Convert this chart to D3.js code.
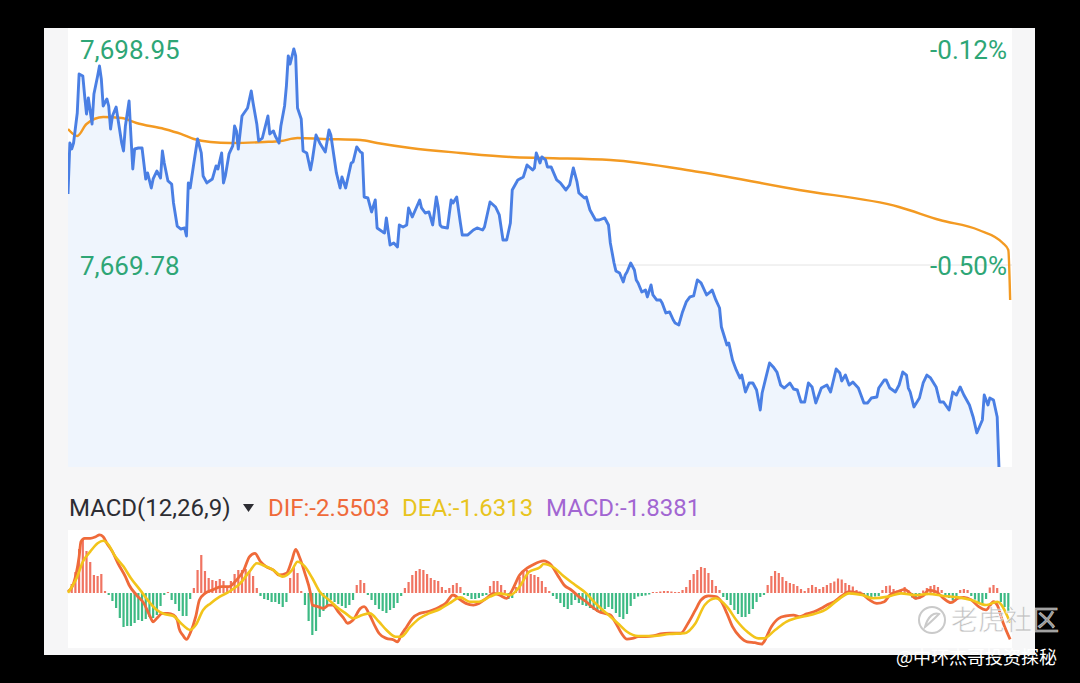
<!DOCTYPE html>
<html>
<head>
<meta charset="utf-8">
<script src="https://cdn.jsdelivr.net/npm/d3@7"></script>
<style>
  html, body { margin: 0; background: #000; }
  svg { display: block; font-family: Roboto, "Noto Sans", sans-serif; }
</style>
</head>
<body>
<div id="chart"></div>
<script>
// intraday minutes from open (0..510) and index level
const priceTicks = [7698.95, 7669.78];
const pctTicks = ["-0.12%", "-0.50%"];

const pricePoints = [
  [0,7678.52],[1,7684.80],[2,7684.06],[3,7684.80],[5,7688.49],[6,7693.29],[8,7693.05],[9,7690.58],[10,7688.37],[11,7690.34],
  [13,7687.14],[14,7690.83],[16,7693.05],[17,7694.28],[18,7692.68],[19,7689.35],[21,7690.22],[22,7689.35],[23,7686.52],[24,7688.12],
  [26,7689.23],[27,7687.75],[29,7684.80],[30,7683.81],[31,7686.89],[33,7689.97],[34,7685.66],[35,7681.60],[36,7684.06],[38,7684.18],
  [40,7684.18],[42,7680.37],[43,7681.11],[45,7679.26],[46,7680.37],[48,7681.35],[50,7680.49],[51,7683.81],[52,7682.34],[54,7680.12],
  [56,7679.75],[57,7677.41],[59,7674.58],[61,7674.21],[63,7674.34],[64,7673.35],[65,7679.88],[66,7679.26],[68,7682.34],[70,7685.29],
  [72,7683.57],[73,7680.74],[75,7679.88],[78,7680.37],[80,7681.97],[81,7681.60],[83,7683.57],[84,7679.88],[85,7680.74],[87,7683.45],
  [89,7684.43],[90,7686.89],[91,7686.28],[92,7684.06],[94,7688.12],[97,7689.11],[99,7691.20],[100,7689.72],[102,7687.14],[103,7685.05],
  [105,7685.41],[108,7688.12],[109,7685.91],[111,7686.28],[112,7685.66],[114,7684.80],[115,7686.89],[117,7689.35],[118,7691.82],[119,7695.51],
  [120,7694.52],[122,7696.37],[123,7695.51],[124,7689.11],[126,7687.75],[127,7683.81],[129,7683.57],[131,7681.48],[132,7682.71],[134,7685.78],
  [136,7684.80],[139,7683.69],[141,7686.40],[142,7685.78],[145,7681.11],[147,7679.26],[148,7680.62],[150,7679.26],[153,7682.34],[154,7682.46],
  [156,7684.31],[158,7683.69],[159,7683.57],[160,7678.15],[162,7678.03],[164,7676.31],[166,7677.78],[167,7674.34],[170,7673.85],[171,7673.72],
  [172,7675.57],[174,7672.25],[176,7672.49],[178,7672.00],[179,7674.71],[181,7674.46],[183,7674.71],[184,7676.80],[186,7675.69],[190,7677.78],
  [191,7676.80],[193,7676.18],[195,7676.31],[197,7674.71],[199,7678.15],[200,7676.92],[201,7674.71],[202,7674.46],[205,7674.34],[207,7677.78],
  [208,7677.41],[210,7678.15],[212,7674.95],[213,7673.48],[216,7673.48],[219,7674.09],[221,7674.34],[224,7674.09],[225,7674.46],[228,7677.54],
  [231,7676.92],[233,7675.94],[235,7672.86],[237,7672.86],[239,7674.95],[240,7679.01],[243,7680.25],[246,7680.62],[248,7682.09],[251,7681.48],
  [252,7681.72],[253,7683.57],[255,7682.34],[256,7683.08],[258,7682.71],[259,7681.85],[261,7681.85],[264,7680.25],[266,7679.88],[269,7679.01],
  [271,7679.63],[273,7681.72],[275,7680.00],[276,7678.65],[279,7678.03],[280,7678.15],[282,7676.55],[285,7675.32],[287,7675.32],[290,7675.57],
  [292,7674.71],[293,7672.49],[295,7670.03],[296,7669.05],[298,7668.80],[300,7667.69],[301,7668.55],[302,7668.92],[304,7670.03],[306,7669.17],
  [307,7667.94],[308,7667.57],[310,7666.46],[312,7666.71],[313,7665.85],[315,7667.32],[316,7666.09],[318,7665.48],[320,7665.48],[321,7665.11],
  [323,7663.88],[325,7664.00],[327,7663.01],[328,7662.65],[330,7662.40],[332,7664.00],[334,7665.23],[336,7665.85],[338,7665.97],[340,7667.94],
  [342,7667.57],[343,7667.08],[345,7666.09],[347,7666.46],[348,7666.71],[350,7665.48],[352,7664.49],[353,7662.15],[354,7661.41],[356,7659.94],
  [357,7660.18],[359,7658.09],[361,7656.86],[363,7655.88],[364,7656.24],[366,7654.15],[368,7655.26],[370,7655.26],[372,7654.40],[374,7651.94],
  [375,7654.03],[377,7655.88],[379,7657.72],[381,7657.23],[383,7656.61],[385,7655.01],[387,7654.64],[390,7655.26],[392,7654.52],[394,7654.40],
  [396,7652.92],[398,7652.92],[400,7655.26],[402,7654.77],[404,7652.80],[407,7654.64],[410,7655.01],[412,7654.15],[415,7656.98],[417,7656.49],
  [418,7655.51],[420,7656.24],[422,7655.01],[424,7655.38],[427,7654.64],[430,7652.80],[432,7652.80],[434,7653.41],[437,7653.54],[438,7654.64],
  [441,7655.63],[442,7655.63],[444,7654.64],[447,7654.15],[449,7655.01],[451,7656.61],[453,7656.24],[454,7654.64],[455,7654.15],[457,7652.31],
  [460,7653.41],[462,7655.26],[464,7656.24],[466,7655.88],[469,7654.77],[471,7652.92],[473,7652.92],[476,7651.94],[478,7654.15],[480,7653.78],
  [482,7654.77],[484,7653.78],[487,7652.55],[489,7651.08],[491,7649.11],[494,7650.71],[495,7653.78],[497,7652.55],[498,7653.41],[500,7653.17],
  [502,7651.08],[503,7644.60]
];

const avgPoints = [
  [0,7686.52],[5,7685.66],[10,7687.14],[19,7688.00],[29,7687.88],[37,7687.26],[52,7686.52],[61,7685.91],[68,7685.29],[77,7684.92],
  [88,7684.80],[106,7684.92],[115,7685.05],[124,7685.41],[138,7685.29],[158,7685.17],[167,7684.80],[185,7684.18],[212,7683.57],[239,7683.08],
  [257,7682.95],[293,7682.71],[341,7681.23],[395,7679.01],[449,7676.92],[471,7675.32],[492,7674.09],[505,7672.49],[508,7671.63],[509,7665.48]
];

const difPoints = [
  [0,0.07],[3,0.53],[6,2.00],[7,2.82],[9,3.00],[12,3.00],[15,3.09],[17,3.19],[19,3.09],[21,2.73],[24,2.27],[27,1.63],[31,0.90],[33,0.44],
  [37,-0.11],[41,-0.57],[44,-1.21],[46,-1.58],[48,-1.39],[51,-1.12],[54,-1.12],[57,-1.21],[59,-1.48],[60,-1.94],[62,-2.31],[64,-2.55],
  [66,-2.21],[69,-1.30],[71,-0.38],[74,-0.02],[78,0.16],[83,0.35],[87,0.35],[91,0.71],[95,1.26],[98,1.99],[101,2.18],[104,1.72],[107,1.45],
  [111,1.26],[114,0.99],[118,1.08],[121,1.81],[123,2.40],[125,1.99],[128,1.08],[131,-0.02],[132,-0.66],[135,-0.75],[138,-0.84],[141,-0.66],
  [143,-0.66],[146,-1.03],[149,-1.39],[151,-1.66],[154,-1.48],[158,-0.84],[160,-0.75],[163,-1.21],[166,-1.85],[168,-2.21],[172,-2.49],
  [176,-2.58],[178,-2.68],[180,-2.31],[183,-1.85],[186,-1.39],[190,-1.12],[194,-1.03],[197,-0.93],[201,-0.75],[204,-0.57],[208,-0.11],
  [212,-0.38],[215,-0.57],[219,-0.66],[222,-0.57],[226,-0.29],[230,-0.02],[233,-0.11],[237,-0.29],[240,0.16],[244,0.99],[248,1.36],
  [251,1.54],[257,1.77],[261,1.54],[265,0.90],[268,0.44],[272,0.16],[276,-0.20],[280,-0.48],[283,-0.75],[287,-1.03],[290,-1.12],[293,-1.21],
  [296,-1.66],[299,-2.21],[302,-2.53],[305,-2.49],[308,-2.40],[312,-2.40],[316,-2.36],[320,-2.25],[325,-2.21],[331,-2.21],[335,-1.66],
  [339,-0.93],[342,-0.38],[346,-0.16],[350,-0.20],[353,-0.48],[356,-1.12],[359,-1.85],[363,-2.40],[367,-2.68],[371,-2.73],[375,-2.80],
  [376,-2.68],[380,-1.85],[384,-1.39],[388,-1.26],[392,-1.21],[395,-1.30],[399,-1.15],[403,-1.03],[407,-0.84],[410,-0.66],[414,-0.48],
  [418,-0.16],[422,0.07],[426,0.02],[429,-0.05],[433,-0.38],[437,-0.57],[441,-0.48],[444,-0.11],[448,0.07],[452,0.20],[455,-0.02],
  [458,-0.29],[462,-0.16],[465,0.16],[469,0.07],[473,-0.29],[477,-0.53],[481,-0.29],[484,-0.24],[488,-0.38],[492,-0.75],[496,-0.93],
  [500,-0.48],[502,-0.66],[505,-1.58],[509,-2.5503]
];

const deaPoints = [
  [0,0.02],[5,0.90],[8,1.72],[12,2.27],[16,2.73],[19,2.87],[22,2.64],[25,2.09],[30,1.45],[34,0.81],[39,0.16],[43,-0.38],[48,-0.93],
  [52,-1.15],[57,-1.26],[61,-1.66],[66,-2.03],[69,-1.76],[73,-0.93],[77,-0.57],[82,-0.20],[87,0.07],[93,0.53],[98,1.17],[102,1.63],
  [105,1.54],[111,1.26],[116,0.90],[121,1.26],[124,1.72],[128,1.45],[132,0.81],[136,0.07],[141,-0.38],[145,-0.75],[150,-1.12],[154,-1.39],
  [159,-1.21],[163,-1.12],[168,-1.58],[172,-2.03],[177,-2.40],[180,-2.40],[185,-1.85],[190,-1.39],[195,-1.12],[201,-0.88],[206,-0.57],
  [212,-0.24],[217,-0.48],[222,-0.48],[228,-0.20],[233,-0.02],[239,-0.11],[244,0.35],[249,1.15],[255,1.41],[257,1.59],[263,1.36],[268,0.90],
  [274,0.44],[280,-0.02],[285,-0.57],[291,-1.12],[297,-1.66],[302,-2.13],[308,-2.36],[316,-2.36],[325,-2.25],[333,-2.21],[339,-1.66],
  [344,-0.66],[350,-0.29],[356,-0.75],[361,-1.48],[367,-2.13],[373,-2.49],[376,-2.49],[382,-2.03],[388,-1.58],[393,-1.39],[401,-1.21],
  [409,-0.93],[416,-0.38],[422,-0.02],[429,-0.11],[435,-0.29],[443,-0.20],[450,-0.02],[458,-0.11],[465,-0.05],[473,-0.16],[481,-0.24],
  [488,-0.38],[496,-0.66],[502,-0.48],[509,-1.6313]
];

// one MACD bar every 2 minutes, starting at minute 0
const macdBars = [
  0,0.9,2.1,4.4,5.3,4.2,3.1,1.8,1.7,1.9,0.2,-0.2,-0.8,-1.5,-2.5,-3.4,-3.3,-3.3,-3.0,-2.7,
  -2.8,-2.6,-2.4,-2.5,-2.2,-1.3,-0.2,0.1,-0.7,-1.1,-1.8,-2.3,-2.3,-0.6,0.5,2.3,3.8,2.2,1.5,1.3,
  1.2,1.4,1.2,0.7,1.2,1.9,2.3,2.3,2.4,2.1,1.7,0.5,-0.3,-0.6,-0.7,-0.9,-0.9,-1.1,-1.4,-0.9,
  1.5,2.6,2.0,0.2,-1.2,-2.8,-4.2,-3.8,-2.4,-1.8,-1.2,-0.7,-0.9,-1.1,-1.3,-1.5,-1.2,-0.7,0.8,1.3,
  1.0,-0.2,-0.7,-1.2,-1.6,-1.8,-2.0,-1.7,-1.5,-1.0,-0.3,0.5,1.1,1.8,2.2,2.4,2.3,1.9,1.5,1.3,
  1.2,0.6,0.3,0.5,0.8,1.0,0.6,-0.2,-0.3,-0.6,-0.6,-0.5,-0.3,-0.2,0.7,1.2,1.2,0.8,0.3,-0.6,
  -0.5,0.6,1.6,2.2,2.3,1.9,1.8,1.6,1.2,0.6,0.2,-0.3,-0.6,-1.0,-1.4,-1.6,-1.2,-0.7,-1.0,-1.2,
  -1.3,-1.5,-1.7,-1.9,-1.8,-1.6,-1.4,-1.6,-2.0,-2.4,-2.6,-2.1,-1.3,-0.6,-0.35,-0.3,-0.25,-0.15,0.1,0.1,
  0.15,0.2,0.2,0.15,0.1,0.1,0.3,0.6,1.3,1.9,2.3,2.6,2.5,2.0,1.3,0.7,0.3,-0.4,-0.7,-1.2,
  -1.7,-2.1,-2.4,-2.4,-2.1,-1.6,-0.9,-0.4,-0.2,0.8,1.7,2.2,2.0,1.6,1.2,1.0,0.9,0.7,0.4,0.2,
  0.5,0.8,0.6,0.4,0.6,0.8,1.0,1.15,1.45,1.35,1.0,0.8,0.65,0.3,0.15,-0.2,-0.35,-0.4,-0.35,-0.3,
  0.3,0.7,0.75,0.4,0.25,0.3,0.6,0.3,-0.45,-0.65,-0.55,0.25,0.5,0.7,0.8,0.6,0.3,-0.2,-0.5,-0.75,
  -0.7,0.3,0.4,0.3,-0.3,-0.65,-1.0,-1.15,-0.6,0.55,0.8,0.5,-0.9,-1.4,-1.84
];

const legendNames = ["DIF", "DEA", "MACD"];
const legendValues = ["-2.5503", "-1.6313", "-1.8381"];
const legendColors = ["#ef6a3a", "#e8c41e", "#a266d2"];

const W = 1080, H = 683;
const svg = d3.select("#chart").append("svg").attr("width", W).attr("height", H);

svg.append("rect").attr("width", W).attr("height", H).attr("fill", "#000");
svg.append("rect").attr("x", 44).attr("y", 28).attr("width", 991).attr("height", 627).attr("fill", "#f6f6f7");

const left = 68, right = 1012;
const pTop = 28, pBottom = 467;
const mTop = 530, mBottom = 648;

svg.append("rect").attr("x", left).attr("y", pTop).attr("width", right - left).attr("height", pBottom - pTop).attr("fill", "#fff");
svg.append("rect").attr("x", left).attr("y", mTop).attr("width", right - left).attr("height", mBottom - mTop).attr("fill", "#fff");

const x = d3.scaleLinear().domain([0, 510]).range([left, right]);
const y = d3.scaleLinear().domain([7644.92, 7698.95]).range([pBottom, pTop]);

svg.append("clipPath").attr("id", "pclip")
  .append("rect").attr("x", left).attr("y", pTop).attr("width", right - left).attr("height", pBottom - pTop);

// grid line at the middle tick
svg.append("line")
  .attr("x1", left).attr("x2", right)
  .attr("y1", y(priceTicks[1])).attr("y2", y(priceTicks[1]))
  .attr("stroke", "#e4e4e4").attr("stroke-width", 1);

const pg = svg.append("g").attr("clip-path", "url(#pclip)");

pg.append("path").datum(pricePoints)
  .attr("fill", "#eff5fd")
  .attr("d", d3.area().x(d => x(d[0])).y0(pBottom).y1(d => y(d[1])));

pg.append("path").datum(avgPoints)
  .attr("fill", "none").attr("stroke", "#f39a22").attr("stroke-width", 2.4)
  .attr("d", d3.line().x(d => x(d[0])).y(d => y(d[1])).curve(d3.curveMonotoneX));

pg.append("path").datum(pricePoints)
  .attr("fill", "none").attr("stroke", "#4a7fe4").attr("stroke-width", 2.9)
  .attr("stroke-linejoin", "round")
  .attr("d", d3.line().x(d => x(d[0])).y(d => y(d[1])));

// price labels
const green = "#2ea676";
svg.append("text").attr("x", 80).attr("y", 59).attr("font-size", 26).attr("fill", green)
  .text(d3.format(",.2f")(priceTicks[0]));
svg.append("text").attr("x", 80).attr("y", y(priceTicks[1]) + 10).attr("font-size", 26).attr("fill", green)
  .text(d3.format(",.2f")(priceTicks[1]));
svg.append("text").attr("x", 1007).attr("y", 59).attr("font-size", 26).attr("fill", green)
  .attr("text-anchor", "end").text(pctTicks[0]);
svg.append("text").attr("x", 1007).attr("y", y(priceTicks[1]) + 10).attr("font-size", 26).attr("fill", green)
  .attr("text-anchor", "end").text(pctTicks[1]);

// MACD header
svg.append("text").attr("x", 69).attr("y", 516).attr("font-size", 24).attr("fill", "#2d2d33")
  .text("MACD(12,26,9)");
svg.append("path").attr("d", "M243,504 L254,504 L248.5,512 Z").attr("fill", "#2d2d33");
const legendX = [268, 402, 546];
legendNames.forEach((n, i) => {
  svg.append("text").attr("x", legendX[i]).attr("y", 516).attr("font-size", 24)
    .attr("fill", legendColors[i]).text(n + ":" + legendValues[i]);
});

// MACD panel
const yl = d3.scaleLinear().domain([-3.02, 3.46]).range([mBottom, mTop]);
const yb = d3.scaleLinear().domain([-5.5, 6.3]).range([mBottom, mTop]);

svg.append("g").selectAll("rect").data(macdBars).join("rect")
  .attr("x", (d, i) => x(i * 2) - 1.1)
  .attr("width", 2.2)
  .attr("y", d => d >= 0 ? yb(d) : yb(0))
  .attr("height", d => Math.abs(yb(d) - yb(0)))
  .attr("fill", d => d >= 0 ? "#f07462" : "#3dba84");

svg.append("path").datum(difPoints)
  .attr("fill", "none").attr("stroke", legendColors[0]).attr("stroke-width", 2.8)
  .attr("d", d3.line().x(d => x(d[0])).y(d => yl(d[1])).curve(d3.curveMonotoneX));
svg.append("path").datum(deaPoints)
  .attr("fill", "none").attr("stroke", "#f2c41a").attr("stroke-width", 2.6)
  .attr("d", d3.line().x(d => x(d[0])).y(d => yl(d[1])).curve(d3.curveMonotoneX));

// watermark
const wm = svg.append("g").attr("opacity", 0.8);
wm.append("circle").attr("cx", 932).attr("cy", 620).attr("r", 13)
  .attr("fill", "none").attr("stroke", "#bdbdbd").attr("stroke-width", 2);
wm.append("path").attr("d", "M925,627 C928,616 934,612 939,614 C935,618 931,622 925,627 Z")
  .attr("fill", "none").attr("stroke", "#bdbdbd").attr("stroke-width", 2);
wm.append("text").attr("x", 951).attr("y", 630).attr("font-size", 27)
  .attr("font-family", "'Noto Sans CJK SC', sans-serif").attr("fill", "#b4b4b4")
  .attr("stroke", "#fff").attr("stroke-width", 0.6).text("老虎社区");
svg.append("text").attr("x", 1057).attr("y", 664).attr("text-anchor", "end").attr("font-size", 18)
  .attr("font-family", "'Noto Sans CJK SC', sans-serif").attr("fill", "#fff").text("@中环杰哥投资探秘");
</script>
</body>
</html>
